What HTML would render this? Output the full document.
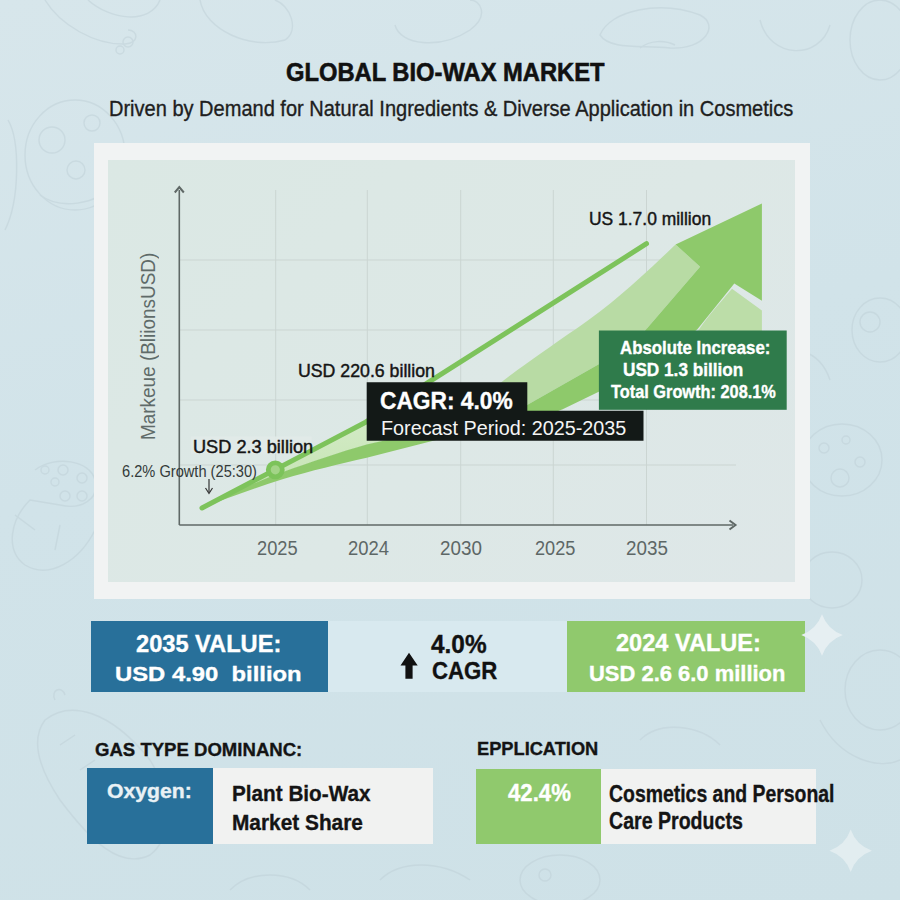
<!DOCTYPE html>
<html><head><meta charset="utf-8"><style>
html,body{margin:0;padding:0;}
body{width:900px;height:900px;position:relative;overflow:hidden;font-family:"Liberation Sans",sans-serif;
background:linear-gradient(165deg,#d7e6eb 0%,#d1e3e9 45%,#cee1e7 100%);}
.t{position:absolute;white-space:nowrap;line-height:1;transform-origin:0 0;}
.b{position:absolute;}
svg{position:absolute;left:0;top:0;}
</style></head><body>
<svg width="900" height="900" viewBox="0 0 900 900" style="position:absolute;left:0;top:0">
<g fill="none" stroke="#bfd0d7" stroke-width="1.4" opacity="0.5">
<path d="M45,0 C60,25 95,45 125,44 C140,43 138,30 128,30"/>
<circle cx="128" cy="42" r="5"/><circle cx="120" cy="50" r="4"/>
<path d="M88,0 C110,20 150,25 160,0"/>
<ellipse cx="75" cy="155" rx="50" ry="55"/>
<circle cx="52" cy="140" r="13"/><circle cx="92" cy="123" r="8"/><circle cx="76" cy="170" r="9"/>
<path d="M40,195 C60,210 95,205 115,185"/>
<path d="M200,0 C205,30 250,50 285,40 C300,30 290,5 275,0"/>
<path d="M395,25 C400,45 440,50 470,30 C490,15 480,0 470,0"/>
<path d="M600,35 C610,10 660,0 700,15 C720,25 705,50 670,48 C640,45 610,50 600,35 Z"/>
<path d="M640,48 C650,40 665,40 675,45"/>
<path d="M760,20 C770,60 820,60 830,25"/>
<ellipse cx="880" cy="40" rx="30" ry="40"/>
<path d="M8,120 C20,140 20,200 5,230"/>
<path d="M35,470 C55,455 90,460 95,480 C100,500 80,510 60,505 L30,500 C10,520 5,550 25,565 C50,580 80,560 95,530"/>
<circle cx="45" cy="470" r="4"/><circle cx="63" cy="470" r="5"/><circle cx="55" cy="482" r="4"/><circle cx="82" cy="478" r="5"/><circle cx="65" cy="496" r="5"/><circle cx="82" cy="496" r="5"/>
<path d="M15,515 L35,530 M60,525 L55,550"/>
<path d="M45,720 C70,700 110,710 150,760 C175,800 170,840 150,855 C120,870 90,840 60,800 C40,770 30,740 45,720 Z"/>
<path d="M60,745 L75,735 M80,770 L95,760 M100,795 L115,785"/>
<path d="M55,700 C50,690 62,685 65,695"/>
<ellipse cx="842" cy="460" rx="40" ry="36"/>
<circle cx="824" cy="448" r="5"/><circle cx="846" cy="440" r="4"/><circle cx="860" cy="462" r="5"/><circle cx="840" cy="478" r="9"/>
<ellipse cx="880" cy="330" rx="28" ry="32"/>
<circle cx="870" cy="322" r="10"/>
<ellipse cx="832" cy="580" rx="30" ry="28"/>
<path d="M760,360 C790,340 820,350 830,380"/>
<ellipse cx="880" cy="690" rx="35" ry="40"/>
<path d="M820,720 C840,760 880,770 900,760"/>
<ellipse cx="560" cy="880" rx="40" ry="25"/>
<circle cx="545" cy="875" r="6"/>
<path d="M380,880 C400,860 440,860 470,880"/>
<path d="M640,740 C660,720 700,725 720,745"/>

<path d="M230,890 C250,870 290,870 310,890"/>
</g>
</svg>

<div class="b" style="left:94px;top:143px;width:716px;height:456px;background:#f1f3f3;"></div>
<div class="b" style="left:108px;top:160px;width:687px;height:422px;background:linear-gradient(135deg,#dbe8e4 0%,#dde8e6 55%,#dee7e8 100%);"></div>
<svg width="900" height="900" viewBox="0 0 900 900">
<defs>
<linearGradient id="wg" x1="0" y1="0" x2="0" y2="1" gradientUnits="objectBoundingBox">
<stop offset="0" stop-color="#d9eecd"/><stop offset="1" stop-color="#c2e2b0"/>
</linearGradient>
</defs>
<g stroke="#cbd5d2" stroke-width="1" fill="none">
<line x1="275.7" y1="190" x2="275.7" y2="525"/>
<line x1="367.3" y1="190" x2="367.3" y2="525"/>
<line x1="460.7" y1="190" x2="460.7" y2="525"/>
<line x1="553.3" y1="190" x2="553.3" y2="525"/>
<line x1="646.5" y1="190" x2="646.5" y2="525"/>
<line x1="180" y1="260" x2="736" y2="260"/>
<line x1="180" y1="330" x2="736" y2="330"/>
<line x1="180" y1="400" x2="736" y2="400"/>
<line x1="180" y1="465" x2="736" y2="465"/>
</g>
<g stroke="#5f6866" stroke-width="1.6" fill="none">
<line x1="179.3" y1="190" x2="179.3" y2="525"/>
<line x1="179.3" y1="525" x2="733" y2="525"/>
</g>
<path d="M174.8,192.5 L179.3,187 L183.8,192.5" stroke="#5f6866" stroke-width="2" fill="none" stroke-linejoin="miter"/>
<path d="M729.5,520.5 L735.5,525 L729.5,529.5" stroke="#5f6866" stroke-width="2" fill="none"/>
<rect x="190.8" y="436.5" width="121" height="17" fill="#e1eae8" opacity="0.9"/>
<path d="M202,508 L365.6,424.5 L425,386 L500.4,383 C508.7,376.0 533.4,358.7 550.0,347.0 C566.6,335.3 585.0,323.1 600.0,311.6 C615.0,300.1 627.4,289.0 640.0,277.8 C652.6,266.6 669.7,250.0 675.6,244.4 L700.1,266.8 L645.6,330 L598.75,364.2 L527.1,404.9 L490,424 L400,437 L366.7,444.4 C340,452 310,462 283,472 C255,482 230,494 202,508 Z" fill="#b8dba4"/>
<path d="M202,508 L365.6,424.8 L425,387 L440,420 L400,437 L366.7,444.4 C340,452 310,462 283,472 C255,482 230,494 202,508 Z" fill="url(#wg)"/>
<path d="M732,288.8 L761.9,310.5 L761.9,331 L698,331 C705,320 718,305 732,288.8 Z" fill="#bcdda8"/>
<path d="M202,508 C230,494 255,482 283,472 C310,462 340,452 366.7,444.4 L400,437 L490,424 L527.1,404.9 L598.75,364.2 C620,350 635,342 645.6,330 L700.1,266.8 L675.6,244.4 L761.9,203.6 L761.9,300.8 L734.3,283.6 L697.8,328.7 C680,345 640,370 598.75,391.7 L562.7,409.3 L540,418 L440,439 L366.7,457.8 C340,464 310,471 283.3,479 C255,488 230,497 202,508 Z" fill="#8ec96b"/>
<path d="M202,508 L365.6,422.2 L646.5,243.7" stroke="#7dc35b" stroke-width="5" fill="none" stroke-linecap="round" stroke-linejoin="round"/>
<circle cx="275.3" cy="469.8" r="7" fill="#a3d487" stroke="#7cc35a" stroke-width="4.8"/>
<line x1="209" y1="479" x2="209" y2="492" stroke="#333" stroke-width="1.2"/>
<path d="M205.5,488 L209,493.5 L212.5,488" stroke="#333" stroke-width="1.2" fill="none"/>
<rect x="598.9" y="330.5" width="187.8" height="79.3" fill="#2f7b4b"/>
<path d="M366.7,382.3 L527.3,382.3 L527.3,410.7 L643.5,410.7 L643.5,440.7 L366.7,440.7 Z" fill="#131917"/>
</svg>
<div class="b" style="left:91px;top:621px;width:237px;height:71px;background:#28709a;"></div>
<div class="b" style="left:328px;top:621px;width:239px;height:71px;background:#d8e9ef;"></div>
<div class="b" style="left:567px;top:621px;width:238px;height:71px;background:#90c96d;"></div>
<div class="b" style="left:87px;top:768px;width:126px;height:76px;background:#28709a;"></div>
<div class="b" style="left:213px;top:768px;width:220px;height:76px;background:#f1f2f1;"></div>
<div class="b" style="left:476px;top:769px;width:125px;height:75px;background:#90c96d;"></div>
<div class="b" style="left:601px;top:769px;width:215px;height:75px;background:#f1f2f1;"></div>
<svg width="900" height="900" viewBox="0 0 900 900">
<path d="M400.5,665.5 L409,652.8 L417.7,665.5 L412.6,665.5 L412.6,678.8 L405.4,678.8 L405.4,665.5 Z" fill="#111"/>
<path d="M822,614.3 Q827.5,629.5 842.7,635 Q827.5,640.5 822,655.7 Q816.5,640.5 801.3,635 Q816.5,629.5 822,614.3 Z" fill="#e6eff2"/>
<path d="M850.7,829.5 Q856.2,845.2 871.9000000000001,850.7 Q856.2,856.2 850.7,871.9000000000001 Q845.2,856.2 829.5,850.7 Q845.2,845.2 850.7,829.5 Z" fill="#e2edf0"/>
</svg>
<div class="t" style="left:286.35px;top:59.25px;font-size:26.16px;font-weight:bold;color:#111111;transform:scaleX(0.9072);-webkit-text-stroke:0.6px #111;">GLOBAL BIO-WAX MARKET</div>
<div class="t" style="left:109.40px;top:98.71px;font-size:21.37px;font-weight:normal;color:#1e1e1e;transform:scaleX(0.9372);-webkit-text-stroke:0.35px #1e1e1e;">Driven by Demand for Natural Ingredients &amp; Diverse Application in Cosmetics</div>
<div class="t" style="left:257.29px;top:539.49px;font-size:19.62px;font-weight:normal;color:#5d6766;transform:scaleX(0.9318);">2025</div>
<div class="t" style="left:348.28px;top:539.49px;font-size:19.62px;font-weight:normal;color:#5d6766;transform:scaleX(0.9393);">2024</div>
<div class="t" style="left:439.56px;top:539.49px;font-size:19.62px;font-weight:normal;color:#5d6766;transform:scaleX(0.9604);">2030</div>
<div class="t" style="left:535.49px;top:539.49px;font-size:19.62px;font-weight:normal;color:#5d6766;transform:scaleX(0.9270);">2025</div>
<div class="t" style="left:625.76px;top:539.49px;font-size:19.62px;font-weight:normal;color:#5d6766;transform:scaleX(0.9604);">2035</div>
<div class="t" style="left:588.78px;top:209.89px;font-size:18.31px;font-weight:normal;color:#151515;transform:scaleX(0.9528);-webkit-text-stroke:0.45px #151515;">US 1.7.0 million</div>
<div class="t" style="left:297.96px;top:362.42px;font-size:18.17px;font-weight:normal;color:#151515;transform:scaleX(0.9762);-webkit-text-stroke:0.45px #151515;">USD 220.6 billion</div>
<div class="t" style="left:193.13px;top:438.59px;font-size:17.73px;font-weight:normal;color:#151515;transform:scaleX(1.0256);-webkit-text-stroke:0.45px #151515;">USD 2.3 billion</div>
<div class="t" style="left:121.97px;top:464.06px;font-size:15.99px;font-weight:normal;color:#333a39;transform:scaleX(0.9152);">6.2% Growth (25:30)</div>
<div class="t" style="left:380.09px;top:390.04px;font-size:23.69px;font-weight:bold;color:#ffffff;transform:scaleX(0.9596);-webkit-text-stroke:0.35px #ffffff;">CAGR: 4.0%</div>
<div class="t" style="left:381.12px;top:417.80px;font-size:20.79px;font-weight:normal;color:#f4f4f4;transform:scaleX(0.9520);">Forecast Period: 2025-2035</div>
<div class="t" style="left:619.56px;top:339.76px;font-size:17.88px;font-weight:bold;color:#ffffff;transform:scaleX(0.9409);-webkit-text-stroke:0.35px #ffffff;">Absolute Increase:</div>
<div class="t" style="left:623.47px;top:362.21px;font-size:17.59px;font-weight:bold;color:#ffffff;transform:scaleX(0.9776);-webkit-text-stroke:0.35px #ffffff;">USD 1.3 billion</div>
<div class="t" style="left:610.84px;top:384.29px;font-size:17.73px;font-weight:bold;color:#ffffff;transform:scaleX(0.9217);-webkit-text-stroke:0.35px #ffffff;">Total Growth: 208.1%</div>
<div class="t" style="left:135.69px;top:633.43px;font-size:23.11px;font-weight:bold;color:#ffffff;transform:scaleX(1.0223);-webkit-text-stroke:0.35px #ffffff;">2035 VALUE:</div>
<div class="t" style="left:114.57px;top:662.66px;font-size:21.08px;font-weight:bold;color:#ffffff;transform:scaleX(1.1299);-webkit-text-stroke:0.35px #ffffff;">USD 4.90&nbsp; billion</div>
<div class="t" style="left:431.06px;top:631.69px;font-size:25.29px;font-weight:bold;color:#111111;transform:scaleX(0.9647);-webkit-text-stroke:0.35px #111111;">4.0%</div>
<div class="t" style="left:431.81px;top:659.22px;font-size:24.42px;font-weight:bold;color:#111111;transform:scaleX(0.9090);-webkit-text-stroke:0.35px #111111;">CAGR</div>
<div class="t" style="left:616.29px;top:632.34px;font-size:23.69px;font-weight:bold;color:#ffffff;transform:scaleX(0.9944);-webkit-text-stroke:0.35px #ffffff;">2024 VALUE:</div>
<div class="t" style="left:589.08px;top:662.64px;font-size:21.80px;font-weight:bold;color:#ffffff;transform:scaleX(1.0071);-webkit-text-stroke:0.35px #ffffff;">USD 2.6 6.0 million</div>
<div class="t" style="left:95.26px;top:739.85px;font-size:19.19px;font-weight:bold;color:#141414;transform:scaleX(0.9674);-webkit-text-stroke:0.35px #141414;">GAS TYPE DOMINANC:</div>
<div class="t" style="left:107.15px;top:780.87px;font-size:20.35px;font-weight:bold;color:#e9f1f5;transform:scaleX(1.0418);-webkit-text-stroke:0.35px #e9f1f5;">Oxygen:</div>
<div class="t" style="left:231.56px;top:783.39px;font-size:22.09px;font-weight:bold;color:#141414;transform:scaleX(0.9382);-webkit-text-stroke:0.35px #141414;">Plant Bio-Wax</div>
<div class="t" style="left:231.55px;top:812.69px;font-size:21.51px;font-weight:bold;color:#141414;transform:scaleX(0.9695);-webkit-text-stroke:0.35px #141414;">Market Share</div>
<div class="t" style="left:476.71px;top:739.62px;font-size:18.17px;font-weight:bold;color:#141414;transform:scaleX(1.0044);-webkit-text-stroke:0.35px #141414;">EPPLICATION</div>
<div class="t" style="left:507.78px;top:781.27px;font-size:24.13px;font-weight:bold;color:#ffffff;transform:scaleX(0.9186);-webkit-text-stroke:0.35px #ffffff;">42.4%</div>
<div class="t" style="left:609.02px;top:782.32px;font-size:23.84px;font-weight:bold;color:#141414;transform:scaleX(0.8148);-webkit-text-stroke:0.35px #141414;">Cosmetics and Personal</div>
<div class="t" style="left:609.02px;top:809.02px;font-size:23.84px;font-weight:bold;color:#141414;transform:scaleX(0.8217);-webkit-text-stroke:0.35px #141414;">Care Products</div>
<div style="position:absolute;left:155.7px;top:438.7px;width:0;height:0;transform:rotate(-90deg);transform-origin:0 0;"><div class="t" style="left:-1.51px;top:-16.86px;font-size:19.91px;color:#5f6b69;transform:scaleX(0.9510);">Markeue (BliionsUSD)</div></div>
</body></html>
